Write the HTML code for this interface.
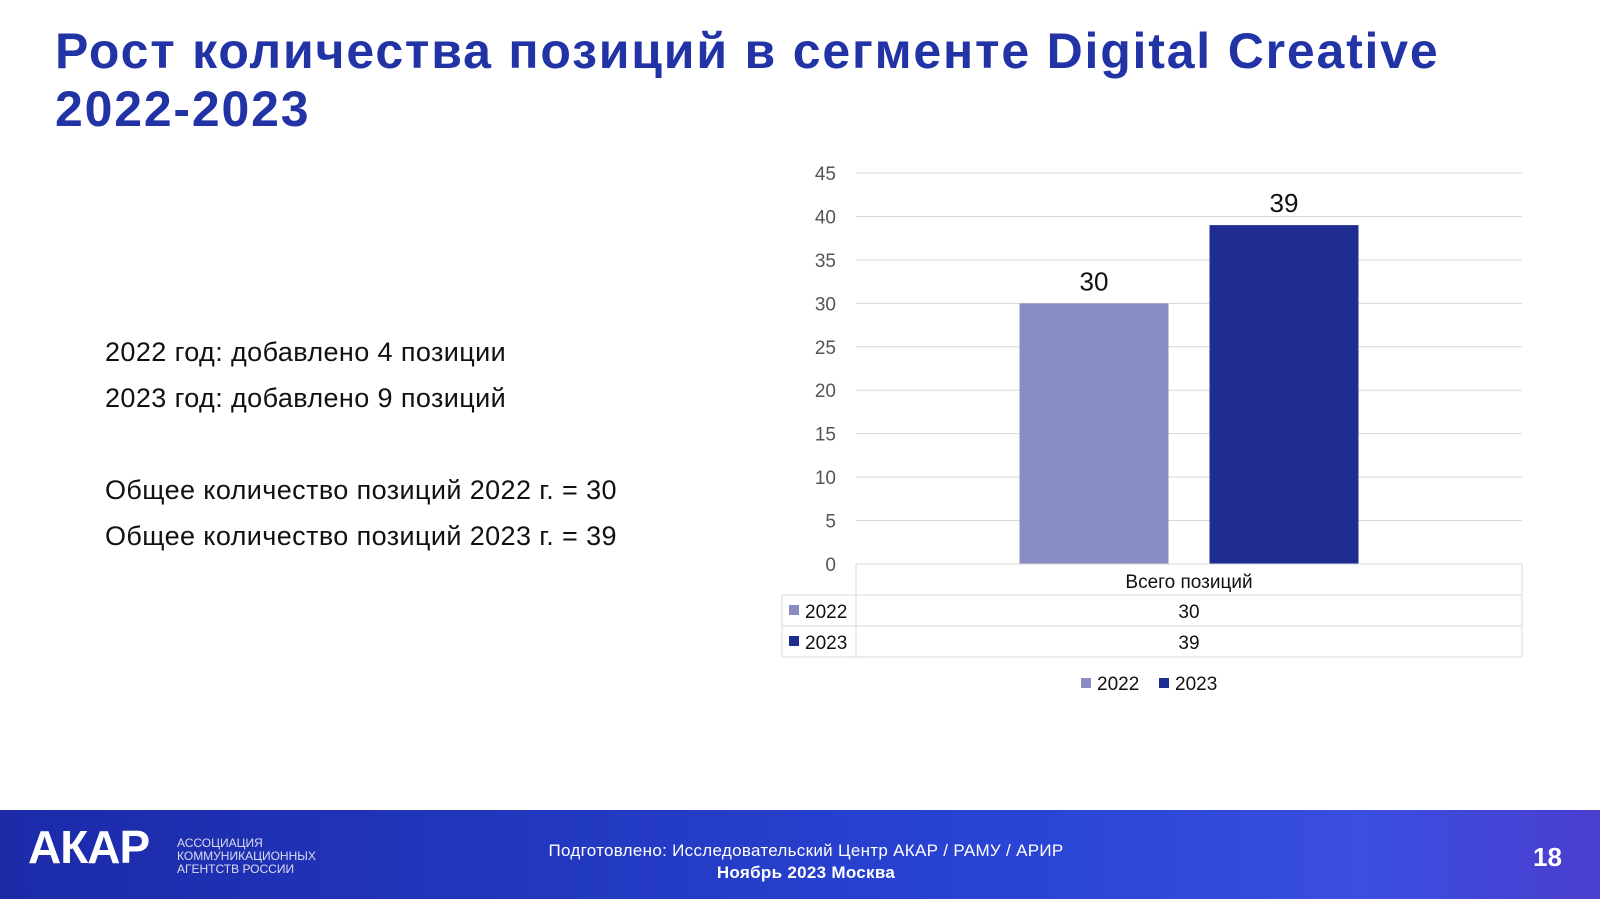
<!DOCTYPE html>
<html><head><meta charset="utf-8"><style>
body{margin:0;width:1600px;height:899px;position:relative;background:#fff;font-family:"Liberation Sans","DejaVu Sans",sans-serif;overflow:hidden}
h1{position:absolute;left:55px;top:22px;margin:0;font-size:50px;line-height:58px;color:#2233a6;font-weight:bold;letter-spacing:1.8px}
.t{position:absolute;left:105px;font-size:27px;color:#111;letter-spacing:0.4px}
#footer{position:absolute;left:0;top:810px;width:1600px;height:89px;background:linear-gradient(90deg,#1c2aa8 0%,#2238c0 35%,#2a45d6 65%,#3a4ee0 85%,#4a3fd0 100%)}
</style></head><body>
<h1>Рост количества позиций в сегменте Digital Creative<br>2022-2023</h1>
<div class="t" style="top:337px">2022 год: добавлено 4 позиции</div>
<div class="t" style="top:383px">2023 год: добавлено 9 позиций</div>
<div class="t" style="top:475px">Общее количество позиций 2022 г. = 30</div>
<div class="t" style="top:521px">Общее количество позиций 2023 г. = 39</div>
<svg id="chart" width="1600" height="810" style="position:absolute;left:0;top:0"></svg>
<div id="footer">
<div style="position:absolute;left:28px;top:10px;font-size:46px;font-weight:bold;color:#fff;letter-spacing:-1px">АКАР</div>
<div style="position:absolute;left:177px;top:27px;font-size:12px;line-height:13px;color:#dde">АССОЦИАЦИЯ<br>КОММУНИКАЦИОННЫХ<br>АГЕНТСТВ РОССИИ</div>
<div style="position:absolute;left:0;width:1612px;top:30px;text-align:center;font-size:17px;line-height:22px;color:#fff;letter-spacing:0.3px">Подготовлено: Исследовательский Центр АКАР / РАМУ / АРИР<br><b>Ноябрь 2023 Москва</b></div>
<div style="position:absolute;left:1533px;top:32px;font-size:26px;font-weight:bold;color:#fff">18</div>
</div>
<script>
const categories=["Всего позиций"];
const seriesNames=["2022","2023"];
const values2022=[30];
const values2023=[39];
const ticks=[0,5,10,15,20,25,30,35,40,45];
const colors=["#8a8cc4","#1f2d92"];
const svg=document.getElementById('chart');
const NS="http://www.w3.org/2000/svg";
const x0=856,x1=1522,yBase=564,yTop=173,maxV=45;
const y=v=>yBase-(yBase-yTop)*v/maxV;
function mk(tag,attrs,text){const e=document.createElementNS(NS,tag);for(const k in attrs)e.setAttribute(k,attrs[k]);if(text!==undefined)e.textContent=text;svg.appendChild(e);return e;}
ticks.forEach(t=>{
const l=mk('line',{x1:x0,x2:x1,y1:y(t),y2:y(t),stroke:'#d9d9d9','stroke-width':1});


const tx=mk('text',{x:836,y:y(t)+7,'text-anchor':'end','font-size':19,fill:'#555'},t);


});
const series=[values2022,values2023];
const bw=149,gap=41,groupW=(x1-x0);
series.forEach((vals,si)=>{
vals.forEach((v,ci)=>{
const cx=x0+groupW*(ci+0.5);
const bx=cx-(bw*2+gap)/2+si*(bw+gap);
const r=mk('rect',{x:bx,y:y(v),width:bw,height:yBase-y(v),fill:colors[si]});


const lb=mk('text',{x:bx+bw/2,y:y(v)-13,'text-anchor':'middle','font-size':26,fill:'#111'},v);


});
});
const tl=782,rows=[564,595,626,657];
const bc='#d9d9d9';
mk('line',{x1:x0,x2:x1,y1:rows[0],y2:rows[0],stroke:bc});
[1,2,3].forEach(i=>mk('line',{x1:tl,x2:x1,y1:rows[i],y2:rows[i],stroke:bc}));
mk('line',{x1:x0,x2:x0,y1:rows[0],y2:rows[3],stroke:bc});
mk('line',{x1:x1,x2:x1,y1:rows[0],y2:rows[3],stroke:bc});
mk('line',{x1:tl,x2:tl,y1:rows[1],y2:rows[3],stroke:bc});
categories.forEach((c,ci)=>{
const cx=x0+groupW*(ci+0.5);
const h=mk('text',{x:cx,y:588,'text-anchor':'middle','font-size':19,fill:'#111'},c);


series.forEach((vals,si)=>{
const tv=mk('text',{x:cx,y:rows[si+1]+23,'text-anchor':'middle','font-size':19,fill:'#111'},vals[ci]);


});
});
seriesNames.forEach((n,si)=>{
const k=mk('rect',{x:789,y:rows[si+1]+10,width:10,height:10,fill:colors[si]});


const t=mk('text',{x:805,y:rows[si+1]+23,'font-size':19,fill:'#111'},n);


});
const lx=[1081,1159];
seriesNames.forEach((n,si)=>{
const k=mk('rect',{x:lx[si],y:678,width:10,height:10,fill:colors[si]});


const t=mk('text',{x:lx[si]+16,y:690,'font-size':19,fill:'#111'},n);


});
</script>
</body></html>
